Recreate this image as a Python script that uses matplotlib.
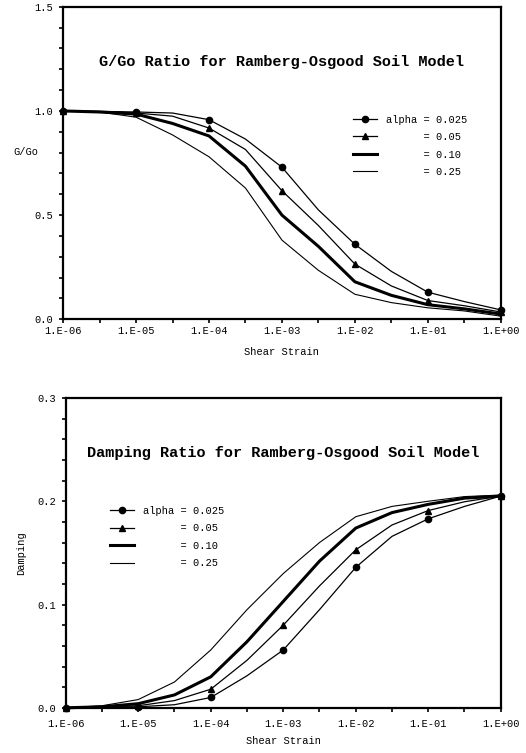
import numpy as np
import matplotlib
matplotlib.use("Agg")
import matplotlib.pyplot as plt
from matplotlib.ticker import FixedLocator, NullFormatter

plt.rcParams['font.family'] = ['Liberation Mono', 'DejaVu Sans Mono']

# shear strain at half-decade steps, 1e-6 .. 1e0
strain = [1e-6, 3.16e-6, 1e-5, 3.16e-5, 1e-4, 3.16e-4, 1e-3,
          3.16e-3, 1e-2, 3.16e-2, 1e-1, 3.16e-1, 1e0]

alphas = ['0.025', '0.05', '0.10', '0.25']

# G/Go ratio
g_025 = [1.0, 0.998, 0.995, 0.99, 0.958, 0.865, 0.73, 0.525, 0.36, 0.23, 0.13, 0.085, 0.045]
g_05 = [1.0, 0.997, 0.99, 0.975, 0.918, 0.815, 0.617, 0.45, 0.265, 0.16, 0.09, 0.065, 0.035]
g_10 = [1.0, 0.995, 0.985, 0.94, 0.88, 0.735, 0.50, 0.35, 0.18, 0.115, 0.07, 0.05, 0.025]
g_25 = [1.0, 0.995, 0.97, 0.885, 0.78, 0.63, 0.38, 0.235, 0.12, 0.08, 0.055, 0.04, 0.015]

# damping ratio
d_025 = [0.0, 0.0003, 0.001, 0.003, 0.010, 0.031, 0.056, 0.095, 0.136, 0.166, 0.183, 0.195, 0.205]
d_05 = [0.0, 0.0005, 0.002, 0.007, 0.018, 0.046, 0.080, 0.118, 0.153, 0.177, 0.191, 0.1995, 0.205]
d_10 = [0.0, 0.001, 0.004, 0.0125, 0.030, 0.064, 0.103, 0.142, 0.174, 0.189, 0.197, 0.203, 0.205]
d_25 = [0.0, 0.002, 0.008, 0.025, 0.056, 0.095, 0.130, 0.160, 0.185, 0.195, 0.200, 0.2045, 0.206]

xticks = [1e-6, 1e-5, 1e-4, 1e-3, 1e-2, 1e-1, 1e0]
xticklabels = ['1.E-06', '1.E-05', '1.E-04', '1.E-03', '1.E-02', '1.E-01', '1.E+00']
half_ticks = [3.16e-6, 3.16e-5, 3.16e-4, 3.16e-3, 3.16e-2, 3.16e-1]

labels = ['alpha = ' + alphas[0], '      = ' + alphas[1],
          '      = ' + alphas[2], '      = ' + alphas[3]]
styles = [dict(lw=0.9, marker='o', ms=4.5),
          dict(lw=0.9, marker='^', ms=4.5),
          dict(lw=2.2, marker=None),
          dict(lw=0.8, marker=None)]

fig = plt.figure(figsize=(5.26, 7.53), dpi=100)
ax1 = fig.add_axes([0.120, 0.576, 0.832, 0.415])
ax2 = fig.add_axes([0.125, 0.060, 0.827, 0.4115])


def setup(ax, ymax, ymajor, yminor, ylabels, xpad, lpad):
    ax.set_xscale('log')
    ax.set_xlim(1e-6, 1e0)
    ax.set_ylim(0, ymax)
    ax.xaxis.set_major_locator(FixedLocator(xticks))
    ax.xaxis.set_minor_locator(FixedLocator(half_ticks))
    ax.xaxis.set_minor_formatter(NullFormatter())
    ax.set_xticklabels(xticklabels)
    ax.set_yticks(ymajor)
    ax.set_yticklabels(ylabels)
    ax.yaxis.set_minor_locator(FixedLocator(yminor))
    ax.tick_params(which='both', direction='out', length=3, width=1.2,
                   labelsize=7.5, pad=4)
    ax.tick_params(axis='x', which='both', pad=xpad)
    for s in ax.spines.values():
        s.set_linewidth(1.6)
    ax.set_xlabel('Shear Strain', fontsize=7.5, labelpad=lpad)


setup(ax1, 1.5, [0, 0.5, 1.0, 1.5], np.arange(0, 1.51, 0.1),
      ['0.0', '0.5', '1.0', '1.5'], 1.5, 8)
setup(ax2, 0.3, [0, 0.1, 0.2, 0.3], np.arange(0, 0.301, 0.02),
      ['0.0', '0.1', '0.2', '0.3'], 5, 5)

for vals, lab, st in zip([g_025, g_05, g_10, g_25], labels, styles):
    ax1.plot(strain, vals, color='black', label=lab, markevery=slice(0, None, 2),
             clip_on=False, **st)
for vals, lab, st in zip([d_025, d_05, d_10, d_25], labels, styles):
    ax2.plot(strain, vals, color='black', label=lab, markevery=slice(0, None, 2),
             clip_on=False, **st)

ax1.text(0.5, 0.823, 'G/Go Ratio for Ramberg-Osgood Soil Model', transform=ax1.transAxes,
         ha='center', va='center', fontsize=11, fontweight='bold')
ax2.text(0.5, 0.823, 'Damping Ratio for Ramberg-Osgood Soil Model', transform=ax2.transAxes,
         ha='center', va='center', fontsize=11, fontweight='bold')

ax1.set_ylabel('G/Go', rotation=0, fontsize=7.5, ha='center', va='center')
ax1.yaxis.set_label_coords(-0.085, 0.535)
ax2.set_ylabel('Damping', fontsize=7.5)
ax2.yaxis.set_label_coords(-0.09, 0.5)

leg_kw = dict(loc='upper left', frameon=False, fontsize=7.5, borderpad=0,
              borderaxespad=0, handlelength=2.3, handletextpad=0.9,
              labelspacing=0.72)
ax1.legend(bbox_to_anchor=(0.662, 0.655), **leg_kw)
ax2.legend(bbox_to_anchor=(0.101, 0.652), **leg_kw)

fig.savefig('out.png', dpi=100)
